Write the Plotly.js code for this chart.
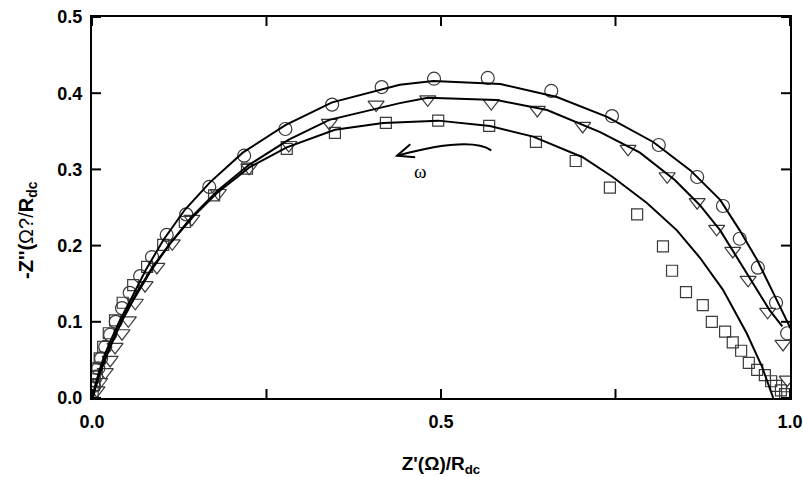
<!DOCTYPE html>
<html>
<head>
<meta charset="utf-8">
<script src="https://cdn.plot.ly/plotly-3.0.1.min.js"></script>
<style>
  html, body { margin: 0; padding: 0; background: #fff; }
  #plot { width: 803px; height: 477px; }
</style>
</head>
<body>
<div id="plot"></div>
<script>
// Normalised Nyquist data: Z'/Rdc (x) and -Z''/Rdc (y)
const circleX = [0.996, 0.980, 0.954, 0.928, 0.904, 0.867, 0.812, 0.745, 0.658, 0.567, 0.490, 0.415, 0.344, 0.277, 0.218, 0.168, 0.135, 0.107, 0.086, 0.069, 0.054, 0.043, 0.034, 0.026, 0.019, 0.013, 0.009, 0.006, 0.003];
const circleY = [0.085, 0.125, 0.171, 0.209, 0.252, 0.290, 0.332, 0.370, 0.403, 0.420, 0.419, 0.408, 0.385, 0.353, 0.318, 0.277, 0.241, 0.214, 0.185, 0.160, 0.138, 0.118, 0.100, 0.083, 0.067, 0.052, 0.039, 0.028, 0.016];

const triX = [0.996, 0.990, 0.968, 0.940, 0.918, 0.895, 0.867, 0.824, 0.768, 0.703, 0.638, 0.572, 0.481, 0.407, 0.340, 0.282, 0.225, 0.181, 0.143, 0.115, 0.093, 0.076, 0.062, 0.052, 0.043, 0.033, 0.026, 0.019, 0.011, 0.007];
const triY = [0.024, 0.071, 0.113, 0.155, 0.193, 0.222, 0.257, 0.291, 0.327, 0.357, 0.378, 0.387, 0.392, 0.385, 0.361, 0.332, 0.302, 0.269, 0.235, 0.203, 0.172, 0.148, 0.125, 0.102, 0.085, 0.067, 0.050, 0.034, 0.021, 0.010];

const squareX = [0.996, 0.993, 0.987, 0.980, 0.973, 0.964, 0.953, 0.941, 0.930, 0.918, 0.907, 0.888, 0.875, 0.851, 0.831, 0.818, 0.781, 0.742, 0.693, 0.636, 0.569, 0.496, 0.421, 0.348, 0.279, 0.222, 0.175, 0.133, 0.102, 0.079, 0.059, 0.044, 0.033, 0.024, 0.016, 0.011, 0.007, 0.004, 0.003, 0.001];
const squareY = [0.001, 0.005, 0.010, 0.016, 0.022, 0.030, 0.037, 0.046, 0.062, 0.073, 0.087, 0.100, 0.122, 0.139, 0.167, 0.199, 0.241, 0.276, 0.311, 0.336, 0.357, 0.364, 0.361, 0.348, 0.327, 0.301, 0.266, 0.231, 0.201, 0.172, 0.148, 0.125, 0.102, 0.085, 0.067, 0.052, 0.039, 0.028, 0.017, 0.008];

// Fitted curves
const circleFitX = [0.001, 0.004, 0.010, 0.017, 0.027, 0.040, 0.056, 0.077, 0.102, 0.133, 0.169, 0.216, 0.277, 0.344, 0.441, 0.489, 0.585, 0.666, 0.738, 0.804, 0.857, 0.900, 0.928, 0.953, 0.976, 0.997, 1.009];
const circleFitY = [0.000, 0.014, 0.034, 0.054, 0.076, 0.102, 0.130, 0.168, 0.207, 0.247, 0.283, 0.322, 0.358, 0.388, 0.411, 0.416, 0.412, 0.395, 0.369, 0.336, 0.299, 0.260, 0.220, 0.181, 0.138, 0.098, 0.076];

const triFitX = [0.001, 0.006, 0.011, 0.020, 0.032, 0.046, 0.064, 0.086, 0.112, 0.143, 0.181, 0.225, 0.282, 0.340, 0.441, 0.481, 0.580, 0.652, 0.728, 0.785, 0.835, 0.871, 0.900, 0.924, 0.947, 0.971, 0.989];
const triFitY = [0.000, 0.016, 0.033, 0.054, 0.079, 0.108, 0.138, 0.171, 0.203, 0.238, 0.273, 0.306, 0.339, 0.365, 0.387, 0.394, 0.391, 0.378, 0.349, 0.322, 0.286, 0.253, 0.220, 0.185, 0.151, 0.115, 0.094];

const squareFitX = [0.001, 0.004, 0.010, 0.017, 0.027, 0.040, 0.057, 0.083, 0.112, 0.145, 0.179, 0.226, 0.279, 0.348, 0.417, 0.496, 0.570, 0.632, 0.703, 0.746, 0.795, 0.838, 0.871, 0.904, 0.938, 0.960, 0.974, 0.976];
const squareFitY = [0.000, 0.013, 0.029, 0.047, 0.070, 0.096, 0.125, 0.165, 0.203, 0.238, 0.269, 0.303, 0.329, 0.352, 0.361, 0.364, 0.357, 0.343, 0.316, 0.290, 0.256, 0.220, 0.184, 0.142, 0.085, 0.041, 0.007, 0.000];

// Axis ticks and labels
const xTickVals = [0, 0.25, 0.5, 0.75, 1.0];
const xLabelVals = [0, 0.5, 1.0];
const xLabelText = ['0.0', '0.5', '1.0'];
const yTickVals = [0, 0.1, 0.2, 0.3, 0.4, 0.5];
const yLabelText = ['0.0', '0.1', '0.2', '0.3', '0.4', '0.5'];

const W = 803, H = 477;
const M = { l: 92, r: 13, t: 17, b: 79 };
const plotW = W - M.l - M.r, plotH = H - M.t - M.b;
const TICK_PX = 9;

const markerEdge = '#3a3a3a';
const fitLine = { color: '#000', width: 2 };

function fit(x, y) {
  return { x: x, y: y, type: 'scatter', mode: 'lines', line: fitLine, hoverinfo: 'skip', showlegend: false };
}
function pts(x, y, symbol, size) {
  return {
    x: x, y: y, type: 'scatter', mode: 'markers', showlegend: false,
    marker: { symbol: symbol, size: size, color: markerEdge, line: { color: markerEdge, width: 1.2 } }
  };
}

const traces = [
  pts(squareX, squareY, 'square-open', 11),
  pts(triX, triY, 'triangle-down-open', 14),
  pts(circleX, circleY, 'circle-open', 13),
  fit(squareFitX, squareFitY),
  fit(triFitX, triFitY),
  fit(circleFitX, circleFitY)
];

// Inward tick marks on all four sides of the frame
const tickLine = { color: '#000', width: 2 };
const tickShapes = [];
const dx = TICK_PX / plotW, dy = TICK_PX / plotH;
xTickVals.forEach(v => {
  tickShapes.push({ type: 'line', xref: 'x', yref: 'paper', x0: v, x1: v, y0: 0, y1: dy, line: tickLine });
  tickShapes.push({ type: 'line', xref: 'x', yref: 'paper', x0: v, x1: v, y0: 1, y1: 1 - dy, line: tickLine });
});
yTickVals.forEach(v => {
  tickShapes.push({ type: 'line', xref: 'paper', yref: 'y', x0: 0, x1: dx, y0: v, y1: v, line: tickLine });
  tickShapes.push({ type: 'line', xref: 'paper', yref: 'y', x0: 1, x1: 1 - dx, y0: v, y1: v, line: tickLine });
});

const tickFont = { family: 'Liberation Sans, Arial, sans-serif', size: 18, color: '#000', weight: 'bold' };
const titleFont = { family: 'Liberation Sans, Arial, sans-serif', size: 19, color: '#000', weight: 'bold' };

const layout = {
  width: W, height: H,
  margin: M,
  paper_bgcolor: '#fff', plot_bgcolor: '#fff',
  xaxis: {
    range: [0, 1.0], tickmode: 'array', tickvals: xLabelVals, ticktext: xLabelText, ticks: '',
    showline: true, linewidth: 2, linecolor: '#000', mirror: true,
    showgrid: false, zeroline: false, tickfont: tickFont, ticklabelstandoff: 6,
    title: { text: "Z'(Ω)/R<sub>dc</sub>", font: titleFont, standoff: 26 }
  },
  yaxis: {
    range: [0, 0.5], tickmode: 'array', tickvals: yTickVals, ticktext: yLabelText, ticks: '',
    showline: true, linewidth: 2, linecolor: '#000', mirror: true,
    showgrid: false, zeroline: false, tickfont: tickFont, ticklabelstandoff: 4
  },
  shapes: tickShapes.concat([
    // curved arrow indicating increasing frequency
    { type: 'path', xref: 'x', yref: 'y', path: 'M0.572,0.325 Q0.542,0.344 0.437,0.318', line: { color: '#000', width: 2 } },
    { type: 'path', xref: 'x', yref: 'y', path: 'M0.456,0.333 L0.437,0.318 L0.463,0.316', line: { color: '#000', width: 2 } }
  ]),
  annotations: [
    { x: 0.471, y: 0.297, xref: 'x', yref: 'y', text: 'ω', showarrow: false,
      font: { family: 'Liberation Serif, Times New Roman, serif', size: 19, color: '#000' } },
    // vertical axis title
    { x: -0.0917, y: 0.441, xref: 'paper', yref: 'paper', xanchor: 'center', yanchor: 'middle',
      textangle: -90, showarrow: false,
      font: { family: 'Liberation Sans, Arial, sans-serif', size: 20, color: '#000', weight: 'bold' },
      text: "-Z''(<span style=\"font-weight:normal\">Ω?/</span>R<sub>dc</sub>" }
  ]
};

Plotly.newPlot('plot', traces, layout, { displayModeBar: false, staticPlot: true });
</script>
</body>
</html>
